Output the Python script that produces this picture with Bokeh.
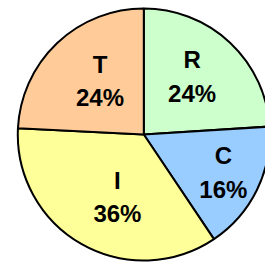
import math
from bokeh.plotting import figure
from bokeh.models import ColumnDataSource
from bokeh.embed import file_html
from bokeh.resources import INLINE
from bokeh.core.properties import value

# Data (clockwise from 12 o'clock)
categories = ["R", "C", "I", "T"]
shares = [24.0, 16.6, 35.2, 24.2]
pct_labels = ["24%", "16%", "36%", "24%"]
colors = ["#CCFFCC", "#99CCFF", "#FFFF99", "#FFCC99"]

# layout of labels (fraction of radius, angle nudge in degrees)
label_radius = [0.60, 0.70, 0.54, 0.55]
label_nudge = [3.5, 0.7, 6.7, -4.4]

total = sum(shares)
starts, ends, lx, ly = [], [], [], []
cum = 0.0
for s, lr, nd in zip(shares, label_radius, label_nudge):
    a0 = math.pi / 2 - 2 * math.pi * (cum + s) / total
    a1 = math.pi / 2 - 2 * math.pi * cum / total
    starts.append(a0)
    ends.append(a1)
    mid = (a0 + a1) / 2 + math.radians(nd)
    lx.append(lr * math.cos(mid))
    ly.append(lr * math.sin(mid))
    cum += s

src = ColumnDataSource(dict(cat=categories, pct=pct_labels, color=colors,
                            start=starts, end=ends, lx=lx, ly=ly))

W, H = 265, 262
CX, CY, R = 143.3, 134.0, 126.0
p = figure(width=W, height=H, output_backend="svg", toolbar_location=None,
           x_range=(-CX / R, (W - CX) / R), y_range=((CY - H) / R, CY / R),
           min_border=0, tools="")
p.axis.visible = False
p.grid.visible = False
p.outline_line_color = None
p.background_fill_color = "white"

p.wedge(x=0, y=0, radius=1, start_angle="start", end_angle="end",
        direction="anticlock", fill_color="color", line_color="black",
        line_width=2, source=src)

p.text(x="lx", y="ly", text="cat", source=src, text_align="center",
       text_baseline="middle", y_offset=-16.7, text_font=value("Liberation Sans"),
       text_font_style="bold", text_font_size="24px", text_color="black")
p.text(x="lx", y="ly", text="pct", source=src, text_align="center",
       text_baseline="middle", y_offset=16.7, text_font=value("Liberation Sans"),
       text_font_style="bold", text_font_size="24px", text_color="black")

open("out.html", "w").write(file_html(p, INLINE))
